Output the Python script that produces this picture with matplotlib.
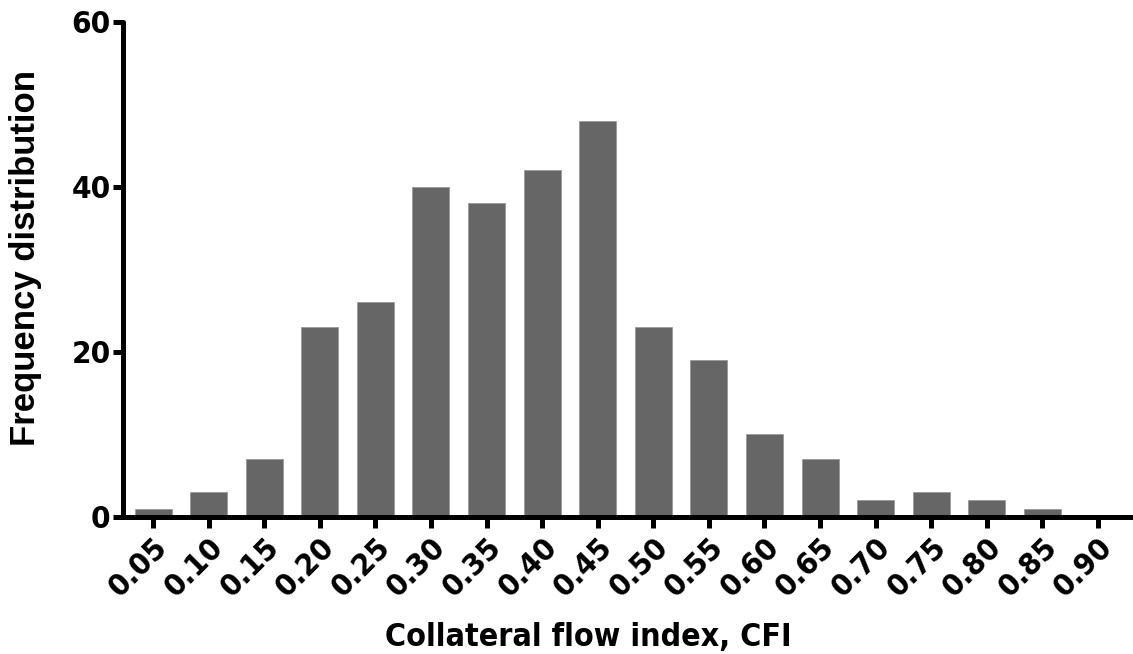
import numpy as np
import matplotlib.pyplot as plt

## Histogram data

cfi_bins = ['0.05', '0.10', '0.15', '0.20', '0.25', '0.30', '0.35', '0.40', '0.45',
            '0.50', '0.55', '0.60', '0.65', '0.70', '0.75', '0.80', '0.85', '0.90']
counts = [1, 3, 7, 23, 26, 40, 38, 42, 48, 23, 19, 10, 7, 2, 3, 2, 1, 0]

plt.rcParams['font.family'] = 'DejaVu Sans'
plt.rcParams['font.weight'] = 'bold'

fig = plt.figure(figsize=(11.33, 6.54), dpi=100)
ax = fig.add_axes([0.1086, 0.2095, 0.8914, 0.7569])

x = np.arange(len(cfi_bins))
ax.bar(x, counts, width=0.665, color='#666666', edgecolor='#9a9a9a', linewidth=0.6, zorder=2)

ax.set_xlim(-0.54, 17.63)
ax.set_ylim(0, 60)
ax.set_yticks([0, 20, 40, 60])
ax.set_xticks(x)
ax.set_xticklabels(cfi_bins, rotation=45, ha='right', rotation_mode='anchor')

for s in ['top', 'right']:
    ax.spines[s].set_visible(False)
for s in ['left', 'bottom']:
    ax.spines[s].set_linewidth(3.6)
    ax.spines[s].set_capstyle('round')

ax.tick_params(axis='x', length=8, width=3.6, labelsize=22.5, pad=3)
ax.tick_params(axis='y', length=7, width=3.6, labelsize=22.5, pad=2)
for lab in ax.get_xticklabels() + ax.get_yticklabels():
    lab.set_fontweight('bold')
    lab.set_fontstretch('condensed')

ax.set_xlabel('Collateral flow index, CFI', fontsize=23, fontweight='bold',
              fontstretch='condensed')
ax.xaxis.set_label_coords(0.461, -0.212)
ax.set_ylabel('Frequency distribution', fontsize=25, fontweight='bold',
              family='Liberation Sans')
ax.yaxis.set_label_coords(-0.080, 0.523)

fig.savefig('out.png', dpi=100)
